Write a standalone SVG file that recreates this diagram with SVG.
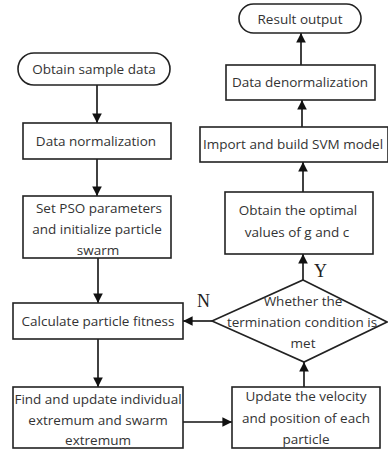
<svg xmlns="http://www.w3.org/2000/svg" width="388" height="450" viewBox="0 0 388 450">
<defs>
<marker id="ah" viewBox="0 0 10 10" refX="10" refY="5" markerWidth="6" markerHeight="6.5" orient="auto" markerUnits="strokeWidth">
<path d="M0,0 L10,5 L0,10 Z" fill="#111"/>
</marker>
<style>
.box{fill:#fff;stroke:#222;stroke-width:1.6}
.t{font-family:"Open Sans","Noto Sans",sans-serif;font-size:13.5px;fill:#333;text-anchor:middle}
.yn{font-family:"Liberation Serif",serif;font-size:18px;fill:#222}
.c{stroke:#111;stroke-width:1.6;fill:none;marker-end:url(#ah)}
</style>
</defs>
<rect width="388" height="450" fill="#fff"/>
<g id="connectors">
<line class="c" x1="97" y1="85" x2="97" y2="123"/>
<line class="c" x1="97" y1="159" x2="97" y2="196"/>
<line class="c" x1="98" y1="258" x2="98" y2="303"/>
<line class="c" x1="98" y1="339" x2="98" y2="387"/>
<line class="c" x1="183" y1="422" x2="232" y2="422"/>
<line class="c" x1="304" y1="387" x2="304" y2="362"/>
<line class="c" x1="212" y1="321" x2="183" y2="321"/>
<line class="c" x1="303" y1="280" x2="303" y2="254"/>
<line class="c" x1="303" y1="192" x2="303" y2="162"/>
<line class="c" x1="302" y1="127" x2="302" y2="100"/>
<line class="c" x1="301" y1="65" x2="301" y2="33"/>
</g>
<g id="start">
<rect class="box" x="18" y="53" width="152" height="32" rx="16"/>
<text class="t" x="94" y="74">Obtain sample data</text>
</g>
<g id="normalize">
<rect class="box" x="23" y="123" width="148" height="36"/>
<text class="t" x="96" y="146">Data normalization</text>
</g>
<g id="pso">
<rect class="box" x="23" y="196" width="148" height="62"/>
<text class="t" x="99" y="213">Set PSO parameters</text>
<text class="t" x="97" y="234">and initialize particle</text>
<text class="t" x="98" y="255">swarm</text>
</g>
<g id="fitness">
<rect class="box" x="13" y="303" width="170" height="36"/>
<text class="t" x="98" y="326">Calculate particle fitness</text>
</g>
<g id="find">
<rect class="box" x="13" y="387" width="170" height="61"/>
<text class="t" x="98" y="404">Find and update individual</text>
<text class="t" x="98" y="425">extremum and swarm</text>
<text class="t" x="98" y="445">extremum</text>
</g>
<g id="update">
<rect class="box" x="232" y="387" width="148" height="61"/>
<text class="t" x="306" y="401">Update the velocity</text>
<text class="t" x="306" y="423">and position of each</text>
<text class="t" x="306" y="444">particle</text>
</g>
<g id="decision">
<polygon class="box" points="303,280 387,322 304,362 212,321"/>
<text class="t" x="303" y="306">Whether the</text>
<text class="t" x="302" y="327">termination condition is</text>
<text class="t" x="303" y="348">met</text>
<text class="yn" x="314" y="277">Y</text>
<text class="yn" x="197" y="307">N</text>
</g>
<g id="optimal">
<rect class="box" x="225" y="192" width="148" height="62"/>
<text class="t" x="298" y="215">Obtain the optimal</text>
<text class="t" x="297" y="237">values of g and c</text>
</g>
<g id="svm">
<rect class="box" x="200" y="127" width="188" height="35"/>
<text class="t" x="293" y="149">Import and build SVM model</text>
</g>
<g id="denorm">
<rect class="box" x="226" y="65" width="149" height="35"/>
<text class="t" x="300" y="87">Data denormalization</text>
</g>
<g id="result">
<rect class="box" x="239" y="4" width="122" height="29" rx="14.5"/>
<text class="t" x="300" y="24">Result output</text>
</g>
</svg>
